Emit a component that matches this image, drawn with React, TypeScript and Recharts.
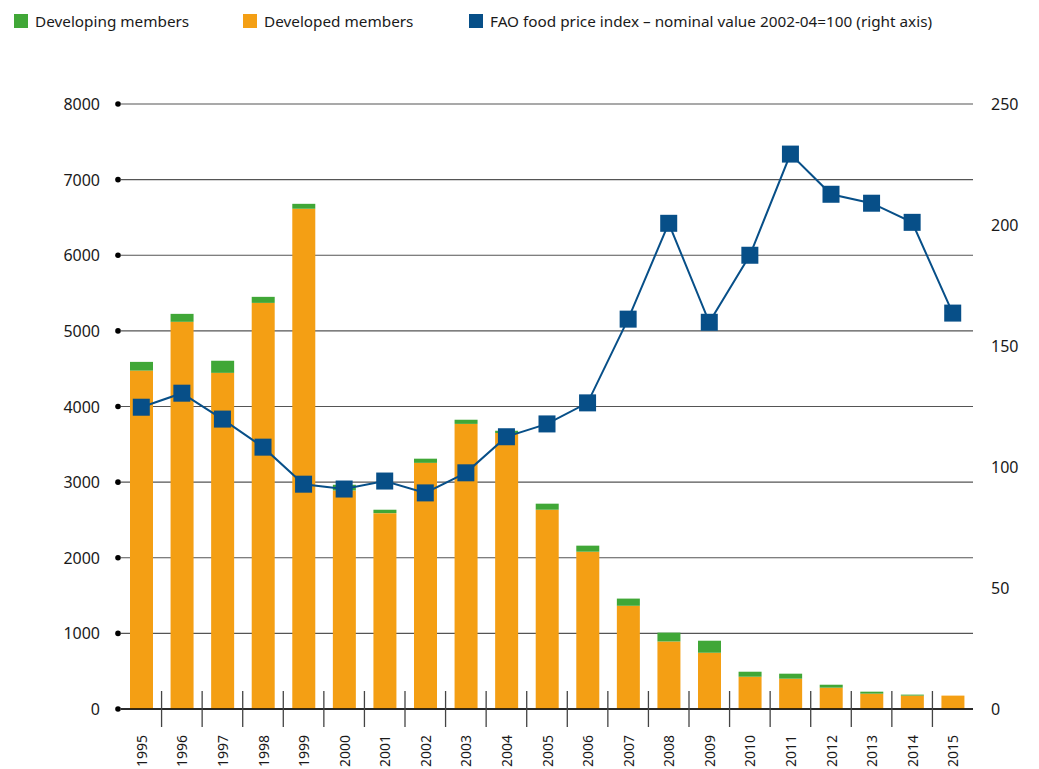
import { ComposedChart, Bar, Line, XAxis, YAxis, CartesianGrid } from 'recharts'

const years = [
  '1995', '1996', '1997', '1998', '1999', '2000', '2001', '2002', '2003', '2004', '2005',
  '2006', '2007', '2008', '2009', '2010', '2011', '2012', '2013', '2014', '2015',
]
const developed = [4475, 5120, 4445, 5370, 6615, 2890, 2590, 3255, 3770, 3650, 2635, 2080, 1365, 893, 744, 427, 401, 282, 203, 177, 177]
const developing = [115, 105, 160, 80, 65, 75, 45, 55, 55, 30, 80, 80, 95, 117, 159, 66, 66, 39, 26, 13, 0]
const foodPriceIndex = [124.7, 130.5, 119.8, 108.2, 92.9, 90.9, 94.2, 89.3, 97.6, 112.5, 117.8, 126.5, 161.1, 200.7, 159.8, 187.5, 229.3, 212.7, 209.0, 201.1, 163.6]
const leftTicks = [0, 1000, 2000, 3000, 4000, 5000, 6000, 7000, 8000]
const rightTicks = [0, 50, 100, 150, 200, 250]

const GREEN = '#40a737'
const ORANGE = '#f49f14'
const BLUE = '#074f88'
const FONT = '"Noto Sans", "Open Sans", sans-serif'

const W = 1039
const H = 769
const LEFT_W = 121
const RIGHT_W = 66
const HALF_BAND = (W - LEFT_W - RIGHT_W) / years.length / 2

const data = years.map((year, i) => ({
  year,
  developed: developed[i],
  developing: developing[i],
  fao: foodPriceIndex[i],
}))

function LeftTick({ x, y, payload }: any) {
  return (
    <g>
      <circle cx={x - 3} cy={y} r={2.8} fill="#000" />
      <text x={x - 21} y={y} textAnchor="end" dominantBaseline="central" fontSize={16} fill="#1a1a1a" fontFamily={FONT}>
        {payload.value}
      </text>
    </g>
  )
}

function YearTick({ x, y, payload }: any) {
  const last = payload.value === years[years.length - 1]
  return (
    <g>
      {!last && <line x1={x + HALF_BAND} x2={x + HALF_BAND} y1={y - 18} y2={y + 18} stroke="#444" strokeWidth={1.3} />}
      <text
        x={x}
        y={y + 26}
        transform={`rotate(-90 ${x} ${y + 26})`}
        textAnchor="end"
        dominantBaseline="central"
        fontSize={14}
        fill="#1a1a1a"
        fontFamily={FONT}
      >
        {payload.value}
      </text>
    </g>
  )
}

function SquareDot({ cx, cy }: any) {
  return <rect x={cx - 8.5} y={cy - 8.5} width={17} height={17} fill={BLUE} />
}

function LegendRow() {
  const items = [
    { label: 'Developing members', color: GREEN, left: 14 },
    { label: 'Developed members', color: ORANGE, left: 243 },
    { label: 'FAO food price index \u2013 nominal value 2002-04=100 (right axis)', color: BLUE, left: 469 },
  ]
  return (
    <>
      {items.map((it) => (
        <div key={it.label} style={{ position: 'absolute', left: it.left, top: 11, display: 'flex', alignItems: 'center', fontFamily: FONT, fontSize: 15.3, color: '#1a1a1a' }}>
          <span style={{ width: 14, height: 14, background: it.color, display: 'inline-block', marginRight: 7 }} />
          <span>{it.label}</span>
        </div>
      ))}
    </>
  )
}

export default function App() {
  return (
    <div style={{ position: 'absolute', left: 0, top: 0, width: W, height: H, background: '#fff' }}>
      <LegendRow />
      <ComposedChart width={W} height={H} data={data} margin={{ top: 104, right: 0, bottom: 0, left: 0 }}>
        <CartesianGrid yAxisId="left" vertical={false} stroke="#555" strokeWidth={1.2} />
        <XAxis
          dataKey="year"
          interval={0}
          height={60}
          tickSize={0}
          tickMargin={0}
          tickLine={false}
          axisLine={{ stroke: '#000', strokeWidth: 1.6 }}
          tick={<YearTick />}
        />
        <YAxis
          yAxisId="left"
          width={LEFT_W}
          domain={[0, 8000]}
          ticks={leftTicks}
          tickSize={0}
          tickMargin={0}
          axisLine={false}
          tickLine={false}
          tick={<LeftTick />}
        />
        <YAxis
          yAxisId="right"
          orientation="right"
          width={RIGHT_W}
          domain={[0, 250]}
          ticks={rightTicks}
          tickSize={0}
          tickMargin={18}
          axisLine={false}
          tickLine={false}
          tick={{ fontSize: 16, fill: '#1a1a1a', fontFamily: FONT, textAnchor: 'start' }}
        />
        <Bar yAxisId="left" dataKey="developed" stackId="a" fill={ORANGE} barSize={23} isAnimationActive={false} />
        <Bar yAxisId="left" dataKey="developing" stackId="a" fill={GREEN} barSize={23} isAnimationActive={false} />
        <Line
          yAxisId="right"
          dataKey="fao"
          stroke={BLUE}
          strokeWidth={2}
          dot={<SquareDot />}
          activeDot={false}
          isAnimationActive={false}
        />
      </ComposedChart>
    </div>
  )
}
